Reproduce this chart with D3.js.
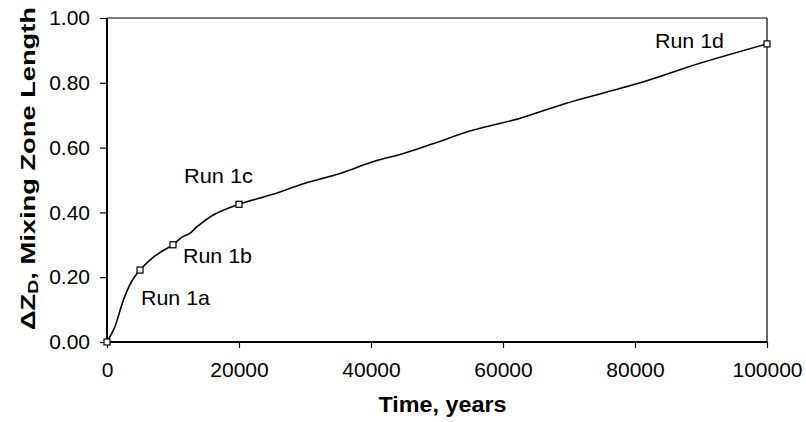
<!DOCTYPE html>
<html>
<head>
<meta charset="utf-8">
<script src="https://cdn.jsdelivr.net/npm/d3@7"></script>
<style>
  body { margin: 0; background: #fff; }
  svg { display: block; }
  text { font-family: "Liberation Sans", Arial, sans-serif; fill: #000; }
</style>
</head>
<body>
<svg id="chart" width="806" height="422"></svg>
<script>
// Curve data (Time, years -> ΔZD)
const times  = [0, 600, 1200, 2500, 3700, 5000, 6500, 8000, 10000, 11300, 12600, 13600, 16100, 20000, 25000, 30000, 35300, 40300, 44900, 49500, 55500, 62500, 69600, 81300, 89800, 100000];
const values = [0, 0.022, 0.047, 0.13, 0.186, 0.222, 0.253, 0.276, 0.30, 0.323, 0.336, 0.355, 0.392, 0.425, 0.455, 0.49, 0.52, 0.556, 0.582, 0.613, 0.654, 0.69, 0.737, 0.803, 0.86, 0.92];
// Run markers
const runTimes  = [0, 5000, 10000, 20000, 100000];
const runValues = [0, 0.222, 0.30, 0.425, 0.92];
const runLabels = ["Run 1a", "Run 1b", "Run 1c", "Run 1d"];
const xTicks = [0, 20000, 40000, 60000, 80000, 100000];
const yTicks = [0, 0.2, 0.4, 0.6, 0.8, 1.0];

const W = 806, H = 422;
const m = {left: 107, right: 39, top: 18, bottom: 80};
const svg = d3.select("#chart");
const x = d3.scaleLinear().domain([0, 100000]).range([m.left, W - m.right]);
const y = d3.scaleLinear().domain([0, 1]).range([H - m.bottom, m.top]);

// frame (top & right)
svg.append("line").attr("x1", x(0)).attr("x2", x(100000)).attr("y1", y(1)).attr("y2", y(1))
  .attr("stroke", "#000").attr("stroke-width", 1.2);
svg.append("line").attr("x1", x(100000)).attr("x2", x(100000)).attr("y1", y(1)).attr("y2", y(0))
  .attr("stroke", "#000").attr("stroke-width", 1.2);

// axes
const xAxis = svg.append("g").attr("transform", `translate(0,${y(0)})`)
  .call(d3.axisBottom(x).tickValues(xTicks).tickFormat(d3.format("d")).tickSize(6).tickPadding(14));
const yAxis = svg.append("g").attr("transform", `translate(${x(0)},0)`)
  .call(d3.axisLeft(y).tickValues(yTicks).tickFormat(d3.format(".2f")).tickSize(7).tickPadding(10));
[xAxis, yAxis].forEach(g => {
  g.select(".domain").attr("stroke", "#000").attr("stroke-width", 2);
  g.selectAll(".tick line").attr("stroke", "#000").attr("stroke-width", 1.2);
  g.selectAll(".tick text").attr("font-size", 21).attr("font-family", "Liberation Sans, Arial, sans-serif").attr("fill", "#000");
});
xAxis.select(".domain").attr("d", `M${x(0)},0H${x(100000)}`);
yAxis.select(".domain").attr("d", `M0,${y(0)}V${y(1)}`);

// curve
const pts = times.map((t, i) => [t, values[i]]);
svg.append("path").datum(pts)
  .attr("fill", "none").attr("stroke", "#000").attr("stroke-width", 1.6)
  .attr("d", d3.line().x(d => x(d[0])).y(d => y(d[1])).curve(d3.curveCatmullRom.alpha(0.5)));

// markers
svg.selectAll("rect.mk").data(runTimes.map((t, i) => [t, runValues[i]])).enter()
  .append("rect").attr("class", "mk")
  .attr("x", d => x(d[0]) - 3).attr("y", d => y(d[1]) - 3)
  .attr("width", 6).attr("height", 6)
  .attr("fill", "#fff").attr("stroke", "#000").attr("stroke-width", 1.2);

// run labels (positioned relative to data points)
const labelPos = [
  {t: runTimes[1], v: runValues[1], dx: 1, dy: 35},
  {t: runTimes[2], v: runValues[2], dx: 10, dy: 18},
  {t: runTimes[3], v: runValues[3], dx: -55, dy: -21},
  {t: runTimes[4], v: runValues[4], dx: -112, dy: 4}
];
svg.selectAll("text.run").data(labelPos).enter()
  .append("text").attr("class", "run")
  .attr("x", (d) => x(d.t) + d.dx).attr("y", d => y(d.v) + d.dy)
  .attr("font-size", 21)
  .attr("textLength", 69).attr("lengthAdjust", "spacingAndGlyphs")
  .text((d, i) => runLabels[i]);

// axis titles
svg.append("text")
  .attr("x", 442.5).attr("y", 411.5).attr("text-anchor", "middle")
  .attr("font-size", 21.5).attr("font-weight", "bold")
  .attr("textLength", 128).attr("lengthAdjust", "spacingAndGlyphs")
  .text("Time, years");

const yt = svg.append("text")
  .attr("transform", "translate(35,168.5) rotate(-90)")
  .attr("text-anchor", "middle")
  .attr("font-size", 21).attr("font-weight", "bold")
  .attr("textLength", 323).attr("lengthAdjust", "spacingAndGlyphs");
yt.append("tspan").text("ΔZ");
yt.append("tspan").attr("font-size", 15).attr("dy", 3).text("D");
yt.append("tspan").attr("dy", -3).text(", Mixing Zone Length");
</script>
</body>
</html>
